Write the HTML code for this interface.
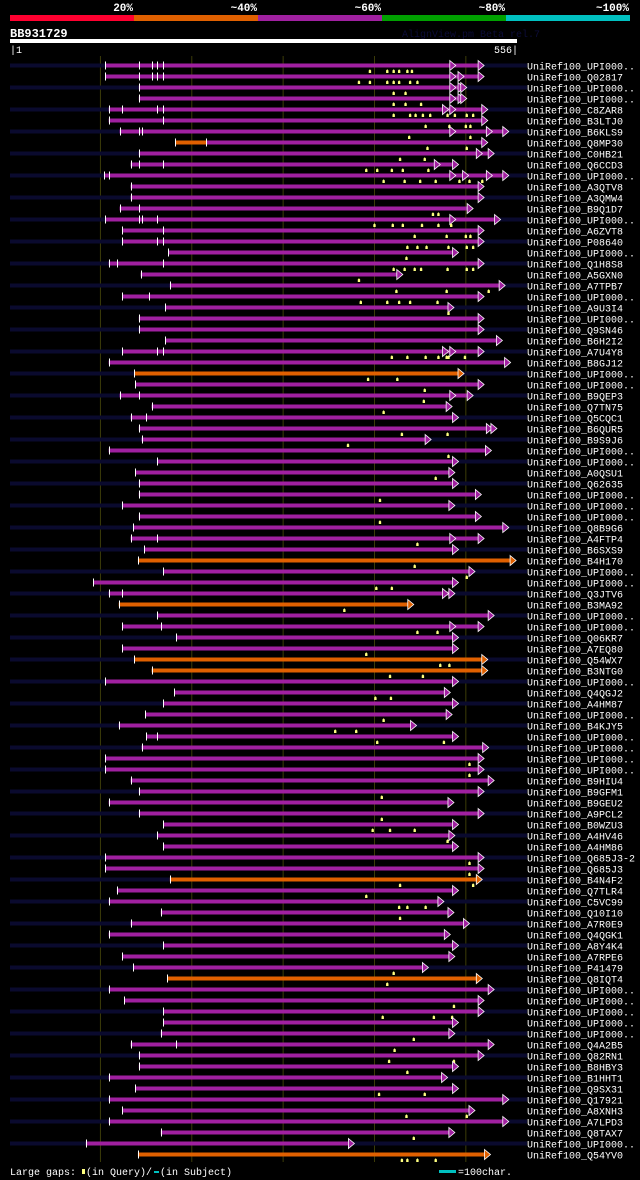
<!DOCTYPE html>
<html><head><meta charset="utf-8">
<style>
html,body{margin:0;padding:0;background:#000;}
svg{display:block;}
text{font-family:"Liberation Mono",monospace;}
</style></head>
<body>
<svg id="chart" width="640" height="1180" viewBox="0 0 640 1180" xmlns="http://www.w3.org/2000/svg">
<rect x="0" y="0" width="640" height="1180" fill="#000"/>
<g id="legend"></g>
<text x="10" y="37" fill="#fff" font-size="12" font-weight="bold">BB931729</text>
<text x="402" y="37" fill="#0c0c38" font-size="10">AlignView.pm Beta rel.7</text>
<rect x="10" y="39" width="507" height="4" fill="#fff"/>
<text x="10" y="53" fill="#fff" font-size="10">|1</text>
<text x="518" y="53" fill="#fff" font-size="10" text-anchor="end">556|</text>
<g id="guides"></g>
<g id="rows"></g>
<g id="footer">
<text x="10" y="1175" fill="#fff" font-size="10">Large gaps:</text>
<rect x="82" y="1169" width="3" height="5" fill="#ffff80"/>
<text x="86" y="1175" fill="#fff" font-size="10">(in Query)/</text>
<rect x="154" y="1171" width="5" height="2" fill="#00c0c0"/>
<text x="160" y="1175" fill="#fff" font-size="10">(in Subject)</text>
<rect x="439" y="1170" width="17" height="3" fill="#00c0c0"/>
<text x="458" y="1175" fill="#fff" font-size="10">=100char.</text>
</g>
</svg>
<script>
const legendLabels = ["20%","~40%","~60%","~80%","~100%"];
const legendColors = ["#ff0030","#e06000","#a020a0","#00a000","#00c0c0"];
const guideTicks = [100,200,300,400,500];
const queryLength = 556;
const hitNames = ["UniRef100_UPI000..","UniRef100_Q02817","UniRef100_UPI000..","UniRef100_UPI000..","UniRef100_C8ZAR8","UniRef100_B3LTJ0","UniRef100_B6KLS9","UniRef100_Q8MP30","UniRef100_C0HB21","UniRef100_Q6CCD3",
"UniRef100_UPI000..","UniRef100_A3QTV8","UniRef100_A3QMW4","UniRef100_B9Q1D7","UniRef100_UPI000..","UniRef100_A6ZVT8","UniRef100_P08640","UniRef100_UPI000..","UniRef100_Q1H8S8","UniRef100_A5GXN0",
"UniRef100_A7TPB7","UniRef100_UPI000..","UniRef100_A9U3I4","UniRef100_UPI000..","UniRef100_Q9SN46","UniRef100_B6H2I2","UniRef100_A7U4Y8","UniRef100_B8GJ12","UniRef100_UPI000..","UniRef100_UPI000..",
"UniRef100_B9QEP3","UniRef100_Q7TN75","UniRef100_Q5CQC1","UniRef100_B6QUR5","UniRef100_B9S9J6","UniRef100_UPI000..","UniRef100_UPI000..","UniRef100_A0QSU1","UniRef100_Q62635","UniRef100_UPI000..",
"UniRef100_UPI000..","UniRef100_UPI000..","UniRef100_Q8B9G6","UniRef100_A4FTP4","UniRef100_B6SXS9","UniRef100_B4H170","UniRef100_UPI000..","UniRef100_UPI000..","UniRef100_Q3JTV6","UniRef100_B3MA92",
"UniRef100_UPI000..","UniRef100_UPI000..","UniRef100_Q06KR7","UniRef100_A7EQ80","UniRef100_Q54WX7","UniRef100_B3NTG0","UniRef100_UPI000..","UniRef100_Q4QGJ2","UniRef100_A4HM87","UniRef100_UPI000..",
"UniRef100_B4KJY5","UniRef100_UPI000..","UniRef100_UPI000..","UniRef100_UPI000..","UniRef100_UPI000..","UniRef100_B9HIU4","UniRef100_B9GFM1","UniRef100_B9GEU2","UniRef100_A9PCL2","UniRef100_B0WZU3",
"UniRef100_A4HV46","UniRef100_A4HM86","UniRef100_Q685J3-2","UniRef100_Q685J3","UniRef100_B4N4F2","UniRef100_Q7TLR4","UniRef100_C5VC99","UniRef100_Q10I10","UniRef100_A7R0E9","UniRef100_Q4QGK1",
"UniRef100_A8Y4K4","UniRef100_A7RPE6","UniRef100_P41479","UniRef100_Q8IQT4","UniRef100_UPI000..","UniRef100_UPI000..","UniRef100_UPI000..","UniRef100_UPI000..","UniRef100_UPI000..","UniRef100_Q4A2B5",
"UniRef100_Q82RN1","UniRef100_B8HBY3","UniRef100_B1HHT1","UniRef100_Q9SX31","UniRef100_Q17921","UniRef100_A8XNH3","UniRef100_A7LPD3","UniRef100_Q8TAX7","UniRef100_UPI000..","UniRef100_Q54YV0"];
const hitStarts = [105,105,142,142,109,109,121,182,142,133, 104,133,133,121,105,124,124,174,109,144, 176,124,171,142,142,171,124,109,137,138,
121,156,133,142,145,109,162,138,142,142, 124,142,136,133,148,141,169,92,109,120, 162,124,183,124,137,156,105,181,169,149,
120,150,145,105,105,133,142,109,142,169, 162,169,105,105,176,118,109,166,133,109, 169,124,136,173,109,126,169,169,166,133,
142,142,109,138,109,124,109,166,84,141];
const hitEnds = [520,520,501,501,524,524,547,524,531,492, 547,520,520,508,538,520,520,492,520,431, 543,520,487,520,520,540,520,549,498,520,
508,485,492,534,462,528,492,488,492,517, 488,517,547,520,492,555,510,492,488,443, 531,520,492,492,524,524,492,483,492,485,
446,492,525,520,520,531,520,487,520,492, 488,492,520,520,518,492,476,487,504,483, 492,488,459,518,531,520,520,492,488,531,
520,492,480,492,547,510,547,488,378,527];
const hitIdentity = [2,2,2,2,2,2,2,2,2,2, 2,2,2,2,2,2,2,2,2,2, 2,2,2,2,2,2,2,2,1,2, 2,2,2,2,2,2,2,2,2,2, 2,2,2,2,2,1,2,2,2,1,
2,2,2,2,1,1,2,2,2,2, 2,2,2,2,2,2,2,2,2,2, 2,2,2,2,1,2,2,2,2,2, 2,2,2,1,2,2,2,2,2,2, 2,2,2,2,2,2,2,2,2,1];
const innerTicks = {0:[142,156,162,169],1:[142,156,162,169],4:[124,162,169],5:[169],6:[142,145],7:[216],9:[142,169],10:[109],13:[142],14:[142,145,162],
15:[169],16:[162,169],18:[118,169],21:[153],26:[162,169],30:[142],32:[150],43:[162],48:[124],51:[166],61:[162],89:[183]};
const innerArrows = {0:[489],1:[489,498],2:[489,498],3:[489,498],4:[481,489],6:[489,529],8:[518],9:[472],10:[489,503,529],14:[489],
26:[481,489],30:[489],33:[529],43:[489],48:[481],51:[489]};
const queryGaps = {0:[395,414,421,427,436,441],1:[383,395,414,421,427,439,447],2:[421,434],3:[421,434,451],4:[421,439,445,453,461,480,488,501,508],
5:[456,482,500,505],6:[438,505],7:[458,501],8:[428,455],9:[391,403,419,431,459],10:[410,433,450,467,493,504,518],13:[464,470],
14:[400,420,431,452,470,484],15:[444,479,500,505],16:[436,447,457,481,501,508],17:[435],18:[421,433,444,451,480,501,508],19:[383],
20:[424,479,525],21:[385,414,427,439,469],22:[481],26:[419,436,456,470,479,481,499],28:[393,425],29:[455],30:[454],31:[410],
33:[430,480],34:[371],35:[481],37:[467],39:[406],41:[406],43:[447],45:[444],46:[501],47:[402,419],49:[367],
51:[447,469],53:[391],54:[472,482],55:[417,453],57:[401,418],59:[410],60:[357,380],61:[403,476],63:[504],64:[504],
66:[408],68:[408],69:[398,417,444],70:[480],72:[504],73:[504],74:[428,508],75:[391],76:[427,436,456],77:[428],82:[421],83:[414],
85:[487],86:[409,465,485],88:[443],89:[422],90:[416,487],91:[436],93:[405,455],95:[435,501],97:[443],99:[430,436,447,467]};

const NS = "http://www.w3.org/2000/svg";
const X0 = 10, X1 = 517;
function xScale(r){ return X0 + (r - 1) * (X1 - X0) / (queryLength - 1); }
function yRow(i){ return 65.5 + i * 11.0; }
function mk(tag, attrs, parent){ const e = document.createElementNS(NS, tag); for (const k in attrs) e.setAttribute(k, attrs[k]); parent.appendChild(e); return e; }

const lg = document.getElementById('legend');
for (let i = 0; i < legendLabels.length; i++) {
  const r = mk('rect', {x: 10 + i*124, y: 15, width: 124, height: 6, fill: legendColors[i]}, lg);
  
  
  const t = mk('text', {x: 10 + (i+1)*124 - 1, y: 11, fill: '#fff', 'font-size': 11, 'font-weight': 'bold', 'text-anchor': 'end'}, lg);
  t.textContent = legendLabels[i];
  
  
}
const gg = document.getElementById('guides');
for (const g of guideTicks) {
  const l = mk('line', {x1: xScale(g), x2: xScale(g), y1: 56, y2: 1162, stroke: '#3c3c08', 'stroke-width': 1}, gg);
  
  
}
const rg = document.getElementById('rows');
const barColors = ["#ff0030", "#e06000", "#a020a0", "#00a000", "#00c0c0"];
for (let i = 0; i < hitNames.length; i++) {
  const y = yRow(i);
  const g = mk('g', {}, rg);
  
  
  if (i % 2 === 0) {
    const bg = mk('rect', {x: 10, y: y - 2, width: 517, height: 4, fill: '#0a0a2e'}, g);
    
    
  }
  const col = barColors[hitIdentity[i]];
  const xs = xScale(hitStarts[i]), xe = xScale(hitEnds[i]);
  if (i === 7) {
    const o = mk('rect', {x: xs, y: y - 2, width: xScale(216) - xs, height: 4, fill: '#e06000'}, g);
    
    
    const p = mk('rect', {x: xScale(216), y: y - 2, width: xe - 6 - xScale(216), height: 4, fill: col}, g);
    
    
  } else {
    const b = mk('rect', {x: xs, y: y - 2, width: xe - 6 - xs, height: 4, fill: col}, g);
    
    
  }
  const arrows = (innerArrows[i] || []).concat([hitEnds[i]]);
  for (const a of arrows) {
    const ax = xScale(a);
    const tri = mk('polygon', {points: `${ax-6},${y-5} ${ax},${y} ${ax-6},${y+5}`, fill: col, stroke: '#fff', 'stroke-width': 0.8}, g);
    
    
  }
  const ticks = [hitStarts[i]].concat(innerTicks[i] || []);
  for (const t of ticks) {
    const tx = Math.round(xScale(t)) + 0.5;
    const tl = mk('line', {x1: tx, x2: tx, y1: y - 4, y2: y + 4, stroke: '#fff', 'stroke-width': 1}, g);
    
    
  }
  for (const q of (queryGaps[i] || [])) {
    const qx = xScale(q);
    const m = mk('polygon', {points: `${qx-1.2},${y+7.5} ${qx-1.2},${y+5} ${qx},${y+3.8} ${qx+1.2},${y+5} ${qx+1.2},${y+7.5}`, fill: '#ffff80'}, g);
    
    
  }
  const lab = mk('text', {x: 527, y: y + 4, fill: '#fff', 'font-size': 10}, g);
  lab.textContent = hitNames[i];
  
  
}
</script>
</body></html>
